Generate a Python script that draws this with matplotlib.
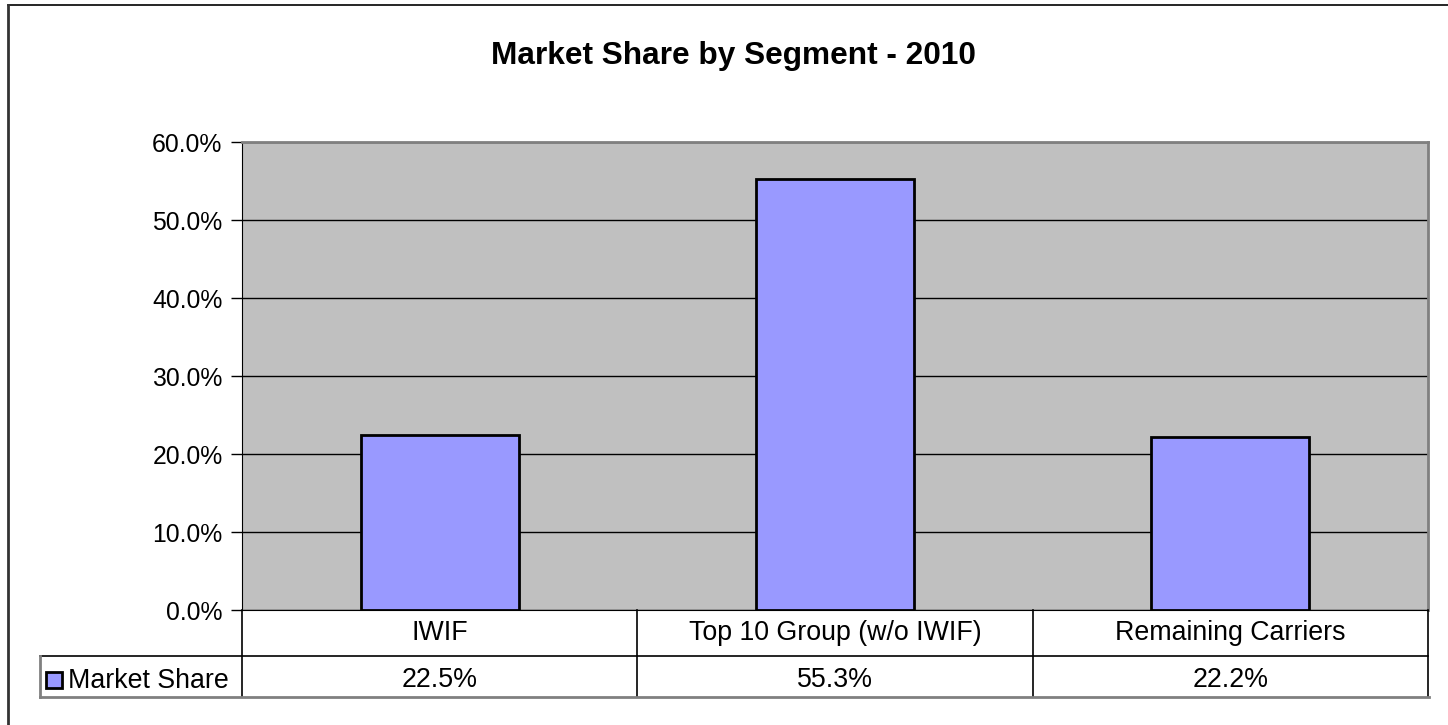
import numpy as np
import matplotlib
matplotlib.use('Agg')
import matplotlib.pyplot as plt
import matplotlib.transforms as mtransforms
from matplotlib.lines import Line2D
from matplotlib.patches import Rectangle

plt.rcParams['font.family'] = ['Liberation Sans', 'DejaVu Sans']

# data
categories = ['IWIF', 'Top 10 Group (w/o IWIF)', 'Remaining Carriers']
shares = [22.5, 55.3, 22.2]
series_name = 'Market Share'
title = 'Market Share by Segment - 2010'
y_ticks = [0, 10, 20, 30, 40, 50, 60]

W, H = 1448, 725
bar_color = '#9999FF'


def fx(px):
    return px / W


def fy(py):
    return 1 - py / H


fig = plt.figure(figsize=(W / 100, H / 100), dpi=100)

# plot area
ax = fig.add_axes([fx(242), fy(610), (1428 - 242) / W, (610 - 142) / H])
ax.set_facecolor('#C0C0C0')
x = np.arange(len(categories))
ax.bar(x, shares, width=0.4, color=bar_color, edgecolor='black', linewidth=2, zorder=3)
ax.set_xlim(-0.5, len(categories) - 0.5)
ax.set_ylim(y_ticks[0], y_ticks[-1])
ax.set_yticks(y_ticks)
ax.yaxis.set_major_formatter(lambda v, p: f'{v:.1f}%')
ax.grid(axis='y', color='black', linewidth=1, zorder=1)
ax.set_axisbelow(True)
ax.set_xticks([])
ax.tick_params(axis='y', length=8, width=1, labelsize=17.8, pad=6)
ax.spines['left'].set_color('black')
ax.spines['bottom'].set_color('black')
ax.spines['top'].set_color('#808080')
ax.spines['right'].set_color('#808080')
for s in ['top', 'right']:
    ax.spines[s].set_linewidth(2)

# data table under the plot
blend = mtransforms.blended_transform_factory(ax.transData, fig.transFigure)
for i in range(len(categories) + 1):
    xb = i - 0.5
    fig.add_artist(Line2D([xb, xb], [fy(610), fy(697)], transform=blend,
                          color='black', linewidth=1.2))
fig.add_artist(Line2D([fx(40), fx(1428)], [fy(656), fy(656)],
                      transform=fig.transFigure, color='black', linewidth=1.2))
fig.add_artist(Line2D([fx(40), fx(1429)], [fy(697), fy(697)],
                      transform=fig.transFigure, color='#808080', linewidth=2))
fig.add_artist(Line2D([fx(40), fx(40)], [fy(656), fy(697)],
                      transform=fig.transFigure, color='#808080', linewidth=2))

table_fs = 19.3
for i, (cat, val) in enumerate(zip(categories, shares)):
    fig.text(i, fy(640), cat, transform=blend, ha='center', va='baseline', fontsize=table_fs)
    fig.text(i, fy(687), f'{val:.1f}%', transform=blend, ha='center', va='baseline', fontsize=table_fs)

# legend key in the table
fig.add_artist(Rectangle((fx(46), fy(688)), 16 / W, 16 / H, transform=fig.transFigure,
                         facecolor=bar_color, edgecolor='black', linewidth=2))
fig.text(fx(68), fy(688), series_name, ha='left', va='baseline', fontsize=table_fs)

# title
fig.text(fx(733), fy(64), title, ha='center', va='baseline', fontsize=22.8, fontweight='bold')

# chart frame (top and left edges visible)
fig.add_artist(Line2D([fx(8), 1], [fy(5), fy(5)], transform=fig.transFigure,
                      color='black', linewidth=1.2))
fig.add_artist(Line2D([fx(8), fx(8)], [fy(5), 0], transform=fig.transFigure,
                      color='#333333', linewidth=2))

fig.savefig('out.png', dpi=100)
